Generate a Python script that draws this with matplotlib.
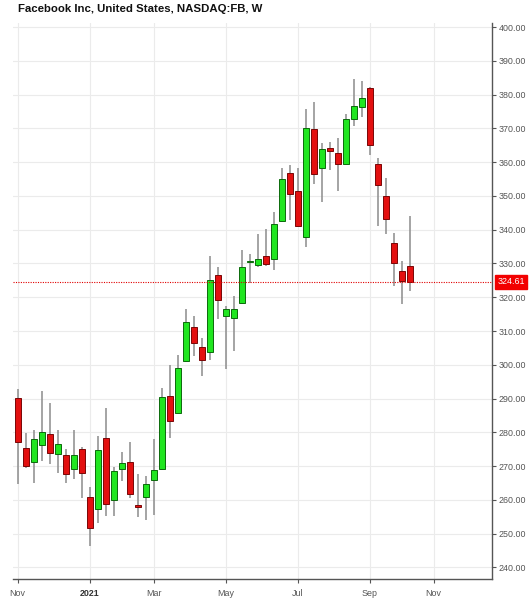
import matplotlib
matplotlib.use("Agg")
import matplotlib.pyplot as plt
import matplotlib.dates as mdates
import numpy as np
import pandas as pd

title = "Facebook Inc, United States, NASDAQ:FB, W"
first_week = "2020-11-02"

opens = [290.3, 275.3, 271.2, 276.2, 279.6, 273.7, 273.2, 269.1, 275.2, 260.9,
         257.3, 278.4, 260.0, 269.1, 271.1, 258.4, 261.0, 265.8, 269.3, 290.7,
         285.7, 301.1, 311.3, 305.4, 303.7, 326.6, 314.5, 313.8, 318.3, 330.4,
         329.6, 332.1, 331.3, 342.7, 356.8, 351.5, 337.7, 369.8, 358.4, 364.2,
         362.8, 359.6, 372.7, 376.2, 381.9, 359.6, 350.1, 336.0, 327.9, 329.3]
highs = [292.9, 279.9, 280.6, 292.2, 288.8, 280.8, 275.2, 280.8, 275.6, 263.8,
         278.9, 287.3, 269.6, 274.2, 277.1, 267.8, 267.1, 278.1, 293.2, 300.0,
         302.8, 316.4, 314.6, 308.0, 332.3, 328.9, 317.3, 320.3, 334.0, 332.8,
         338.7, 340.2, 345.1, 358.4, 359.1, 358.4, 375.7, 377.8, 365.8, 366.0,
         367.3, 374.2, 384.6, 384.0, 382.2, 361.2, 355.3, 339.0, 330.8, 344.1]
lows = [264.6, 269.5, 265.0, 271.4, 270.7, 268.0, 265.0, 266.1, 260.6, 246.4,
        253.2, 255.3, 255.3, 265.6, 260.6, 254.8, 254.0, 255.5, 268.8, 278.4,
        285.3, 300.8, 302.5, 296.6, 301.5, 313.6, 298.8, 304.0, 318.0, 324.1,
        329.1, 329.3, 328.1, 342.2, 343.0, 340.7, 334.8, 353.5, 348.1, 357.6,
        351.5, 359.3, 370.7, 373.5, 362.1, 341.0, 338.7, 323.2, 318.0, 321.8]
closes = [277.1, 270.0, 278.1, 280.1, 273.9, 276.7, 267.6, 273.4, 268.0, 251.6,
          274.9, 258.7, 268.5, 271.0, 261.8, 257.9, 264.6, 268.8, 290.6, 283.3,
          299.0, 312.8, 306.5, 301.3, 325.2, 319.2, 316.4, 316.6, 329.0, 330.7,
          331.3, 329.9, 341.7, 355.0, 350.6, 341.2, 370.1, 356.5, 363.9, 363.4,
          359.6, 372.9, 376.5, 378.9, 365.0, 353.1, 343.3, 330.2, 324.9, 324.61]

last_price = 324.61
x_tick_dates = ["2020-11-02", "2021-01-04", "2021-03-01", "2021-05-03",
                "2021-07-05", "2021-09-06", "2021-11-01"]
x_tick_labels = ["Nov", "2021", "Mar", "May", "Jul", "Sep", "Nov"]
y_ticks = list(range(240, 401, 10))

dates = pd.date_range(first_week, periods=len(opens), freq="W-MON")
x = mdates.date2num(dates.to_pydatetime())

fig = plt.figure(figsize=(5.30, 5.99), dpi=100)
ax = fig.add_axes([0.0245, 0.0329, 0.9032, 0.9287])

GREEN = "#20e620"
GREEN_EDGE = "#0b6a0b"
RED = "#e31010"
RED_EDGE = "#7a0505"
WICK = "#8c8c8c"
width = 7 * 0.72

for xi, o, h, l, c in zip(x, opens, highs, lows, closes):
    up = c >= o
    ax.vlines(xi, l, h, color=WICK, linewidth=1.1, zorder=2)
    lo, hi = min(o, c), max(o, c)
    hgt = max(hi - lo, 0.25)
    ax.add_patch(plt.Rectangle((xi - width / 2, lo), width, hgt,
                               facecolor=GREEN if up else RED,
                               edgecolor=GREEN_EDGE if up else RED_EDGE,
                               linewidth=0.7, zorder=3))

x0 = mdates.date2num(pd.Timestamp(first_week).to_pydatetime())
ax.set_xlim(x0 - 0.59 * 7, x0 + 59.25 * 7)
ax.set_ylim(236.5, 401.2)

# grid
ax.set_yticks(y_ticks)
ax.set_yticklabels([f"{v:.2f}" for v in y_ticks])
tick_x = mdates.date2num(pd.to_datetime(x_tick_dates).to_pydatetime())
ax.set_xticks(tick_x)
ax.set_xticklabels(x_tick_labels)
ax.grid(True, color="#ebebeb", linewidth=0.8, zorder=0)
ax.set_axisbelow(True)

ax.yaxis.tick_right()
ax.tick_params(axis="y", which="both", length=3, width=0.8, color="#555555",
               labelsize=6.4, labelcolor="#555555", pad=2)
ax.tick_params(axis="x", which="both", length=3, width=0.8, color="#555555",
               labelsize=6.4, labelcolor="#555555", pad=4)
for lab in ax.get_xticklabels():
    lab.set_family("Liberation Sans")
    if lab.get_text() == "2021":
        lab.set_fontweight("bold")
        lab.set_color("#333333")
for lab in ax.get_yticklabels():
    lab.set_family("Liberation Sans")

for side in ["top", "left"]:
    ax.spines[side].set_visible(False)
for side in ["right", "bottom"]:
    ax.spines[side].set_color("#555555")
    ax.spines[side].set_linewidth(1.0)

# last price line and label
ax.axhline(last_price, color="#e00000", linestyle=(0, (1, 1.2)), linewidth=0.8, zorder=4)
ax.annotate(f"{last_price:.2f}", xy=(1.0, last_price), xycoords=("axes fraction", "data"),
            xytext=(4.0, 0), textcoords="offset points", va="center", ha="left",
            fontsize=6.4, family="Liberation Sans", color="white",
            bbox=dict(boxstyle="square,pad=0.3", facecolor="#f20000", edgecolor="#f20000"),
            annotation_clip=False, zorder=5)

fig.text(18.5 / 530, 1 - 8.5 / 599, title, fontsize=8.2, fontweight="bold",
         family="Liberation Sans", color="#111111", va="center", ha="left")

fig.savefig("out.png", dpi=100, facecolor="white")
